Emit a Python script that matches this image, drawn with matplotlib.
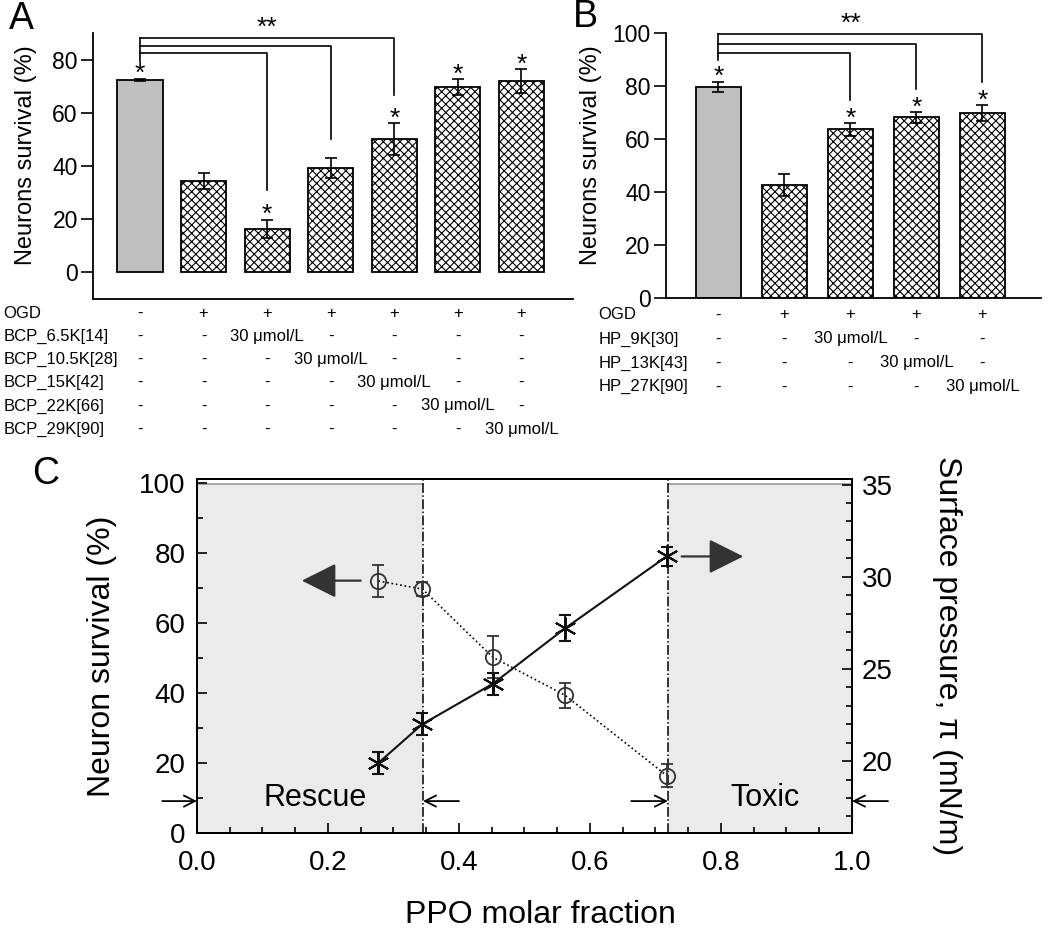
import numpy as np
import matplotlib
matplotlib.use('Agg')
import matplotlib.pyplot as plt
from matplotlib import transforms

plt.rcParams['font.family'] = ['Liberation Sans', 'DejaVu Sans']
plt.rcParams['hatch.linewidth'] = 0.8

# Panel A: BCP series, neuron survival after OGD
a_survival = [72.4, 34.3, 16.4, 39.3, 50.1, 69.6, 71.9]
a_err = [0.5, 3.0, 3.5, 3.7, 6.0, 3.0, 4.6]
a_sig = [True, False, True, False, True, True, True]
a_ogd = ['-', '+', '+', '+', '+', '+', '+']
a_rows = ['BCP_6.5K[14]', 'BCP_10.5K[28]', 'BCP_15K[42]', 'BCP_22K[66]', 'BCP_29K[90]']
a_bracket_to = [2, 3, 4]
a_bracket_top = [82.6, 85.3, 88.0]
a_bracket_end = [31.0, 50.0, 66.8]
a_bracket_base = 79.0

# Panel B: HP series
b_survival = [79.7, 42.6, 63.7, 68.2, 69.7]
b_err = [2.0, 4.2, 2.4, 2.0, 3.0]
b_sig = [True, False, True, True, True]
b_ogd = ['-', '+', '+', '+', '+']
b_rows = ['HP_9K[30]', 'HP_13K[43]', 'HP_27K[90]']
b_bracket_to = [2, 3, 4]
b_bracket_top = [92.6, 95.8, 99.6]
b_bracket_end = [74.7, 78.9, 81.6]
b_bracket_base = 89.8

# Panel C: survival and surface pressure vs PPO molar fraction
ppo = [0.277, 0.344, 0.452, 0.562, 0.717]
c_survival = [71.9, 69.6, 50.1, 39.3, 16.4]
c_survival_err = [4.6, 2.0, 6.0, 3.5, 3.3]
pressure = [19.9, 22.0, 24.2, 27.2, 31.1]
pressure_err = [0.6, 0.6, 0.6, 0.7, 0.5]
rescue_edge = 0.345
toxic_edge = 0.719

dose = '30 \u03bcmol/L'

fig = plt.figure(figsize=(10.5, 9.33), dpi=100)


def bar_panel(ax, vals, errs, sig, ogd, rows, br_to, br_top, br_end, br_base,
              width, row_x, row_y0, row_dy):
    x = np.arange(len(vals))
    colors = ['#bfbfbf'] + ['white'] * (len(vals) - 1)
    hatches = [''] + ['xxxx'] * (len(vals) - 1)
    for xi, v, c, h in zip(x, vals, colors, hatches):
        ax.bar(xi, v, width, color=c, edgecolor='k', hatch=h, linewidth=1.3, zorder=2)
    ax.errorbar(x, vals, yerr=errs, fmt='none', ecolor='k', elinewidth=1.2,
                capsize=4, capthick=1.2, zorder=3)
    # significance stars
    for xi, v, e, s in zip(x, vals, errs, sig):
        if s:
            ax.text(xi, v + e - 1.0, '*', ha='center', va='baseline', fontsize=19)
    # comparison brackets
    ax.plot([0, 0], [max(br_top), br_base], color='k', lw=1.2, clip_on=False)
    for t, top, end in zip(br_to, br_top, br_end):
        ax.plot([0, t, t], [top, top, end], color='k', lw=1.2, clip_on=False)
    ax.text(2, max(br_top) + 1.2, '**', ha='center', va='baseline', fontsize=19)
    # treatment table under the axis
    tr = transforms.blended_transform_factory(ax.transData, fig.transFigure)
    table = [('OGD', ogd)]
    for i, name in enumerate(rows):
        entries = ['-'] * len(vals)
        entries[i + 2] = dose
        table.append((name, entries))
    for r, (name, entries) in enumerate(table):
        y = row_y0 - r * row_dy
        fig.text(row_x, y, name, fontsize=12, ha='left', va='center')
        for xi, ent in zip(x, entries):
            ax.text(xi, y, ent, transform=tr, fontsize=12, ha='center', va='center')
    ax.set_xticks([])
    ax.spines['top'].set_visible(False)
    ax.spines['right'].set_visible(False)
    for sp in ['left', 'bottom']:
        ax.spines[sp].set_linewidth(1.3)
    ax.tick_params(axis='y', direction='out', length=9, width=1.2, labelsize=16.5, pad=2)


axA = fig.add_axes([0.0886, 0.6795, 0.457, 0.285])
axA.set_xlim(-0.74, 6.81)
axA.set_ylim(-10, 90)
axA.set_yticks([0, 20, 40, 60, 80])
bar_panel(axA, a_survival, a_err, a_sig, a_ogd, a_rows, a_bracket_to, a_bracket_top,
          a_bracket_end, a_bracket_base, 0.71, 0.003, 0.6645, 0.0249)
axA.set_ylabel('Neurons survival (%)', fontsize=17, va='center', ha='center')
axA.yaxis.set_label_coords(-0.14, 0.54)

axB = fig.add_axes([0.634, 0.6806, 0.357, 0.284])
axB.set_xlim(-0.80, 4.88)
axB.set_ylim(0, 100)
axB.set_yticks([0, 20, 40, 60, 80, 100])
bar_panel(axB, b_survival, b_err, b_sig, b_ogd, b_rows, b_bracket_to, b_bracket_top,
          b_bracket_end, b_bracket_base, 0.67, 0.570, 0.6624, 0.0257)
axB.set_ylabel('Neurons survival (%)', fontsize=17, va='center', ha='center')
axB.yaxis.set_label_coords(-0.2, 0.54)

# Panel C
ax3 = fig.add_axes([0.1876, 0.1072, 0.6238, 0.3794])
ax3.set_xlim(0, 1)
ax3.set_ylim(0, 101)
ax3r = ax3.twinx()
ax3r.set_ylim(16.1, 35.3)

ax3.fill_between([0, rescue_edge], 0, 99.5, color='#ebebeb', lw=0, zorder=0)
ax3.fill_between([toxic_edge, 1], 0, 99.5, color='#ebebeb', lw=0, zorder=0)
ax3.plot([0, rescue_edge], [99.5, 99.5], color='#999999', lw=1.2, zorder=1)
ax3.plot([toxic_edge, 1], [99.5, 99.5], color='#999999', lw=1.2, zorder=1)
for xe in [rescue_edge, toxic_edge]:
    ax3.axvline(xe, color='k', ls='-.', lw=1.1, zorder=1)

ax3.plot(ppo, c_survival, ':', color='k', lw=1.2, zorder=2)
ax3.errorbar(ppo, c_survival, yerr=c_survival_err, fmt='o', mfc='none', mec='#333333',
             mew=1.3, ms=11, ecolor='#333333', elinewidth=1.3, capsize=4, capthick=1.3,
             zorder=3)
ax3r.errorbar(ppo, pressure, yerr=pressure_err, fmt='-', color='#111111', lw=1.5,
              marker=(6, 2, 0), ms=16, mew=1.5, capsize=4, capthick=1.3, elinewidth=1.3)

big = dict(arrowstyle='-|>,head_length=0.9,head_width=0.45', mutation_scale=24,
           color='#333333', lw=1.6, shrinkA=0, shrinkB=0)
ax3.annotate('', xy=(0.16, 72), xytext=(0.25, 72), arrowprops=big)
ax3r.annotate('', xy=(0.834, 31.1), xytext=(0.74, 31.1), arrowprops=big)

small = dict(arrowstyle='->,head_length=0.5,head_width=0.25', mutation_scale=16,
             color='k', lw=1.3, shrinkA=0, shrinkB=0)
for xy, xt in [(0.0, -0.053), (rescue_edge, 0.40), (toxic_edge, 0.663), (1.0, 1.055)]:
    ax3.annotate('', xy=(xy, 9.1), xytext=(xt, 9.1), arrowprops=small,
                 annotation_clip=False)

ax3.text(0.18, 10, 'Rescue', fontsize=22, ha='center', va='center')
ax3.text(0.867, 10, 'Toxic', fontsize=22, ha='center', va='center')

ax3.set_xticks(np.arange(0, 1.01, 0.2))
ax3.set_xticks(np.arange(0, 1.01, 0.05), minor=True)
ax3.set_yticks(np.arange(0, 101, 20))
ax3.set_yticks(np.arange(0, 101, 10), minor=True)
ax3r.set_yticks([20, 25, 30, 35])
ax3r.set_yticks(np.arange(17, 36, 1), minor=True)
ax3.tick_params(which='both', direction='in', top=False, right=False, width=1.2)
ax3.tick_params(which='major', length=7)
ax3.tick_params(which='minor', length=4)
ax3.tick_params(axis='x', labelsize=20, pad=12)
ax3.tick_params(axis='y', labelsize=20, pad=8)
ax3r.tick_params(which='both', direction='in', width=1.2, labelsize=20, pad=7)
ax3r.tick_params(which='major', length=7)
ax3r.tick_params(which='minor', length=4)
for a in (ax3, ax3r):
    for sp in a.spines.values():
        sp.set_linewidth(1.4)

ax3.set_ylabel('Neuron survival (%)', fontsize=23, va='center', ha='center')
ax3.yaxis.set_label_coords(-0.145, 0.5)
ax3.set_xlabel('PPO molar fraction', fontsize=23, va='center', ha='center')
ax3.xaxis.set_label_coords(0.524, -0.232)
ax3r.set_ylabel('Surface pressure, \u03c0 (mN/m)', fontsize=23, rotation=270,
                va='center', ha='center')
ax3r.yaxis.set_label_coords(1.145, 0.5)

fig.text(0.02, 0.9796, 'A', fontsize=27, ha='center', va='center')
fig.text(0.558, 0.982, 'B', fontsize=27, ha='center', va='center')
fig.text(0.043, 0.492, 'C', fontsize=27, ha='center', va='center')

fig.savefig('out.png', dpi=100)
